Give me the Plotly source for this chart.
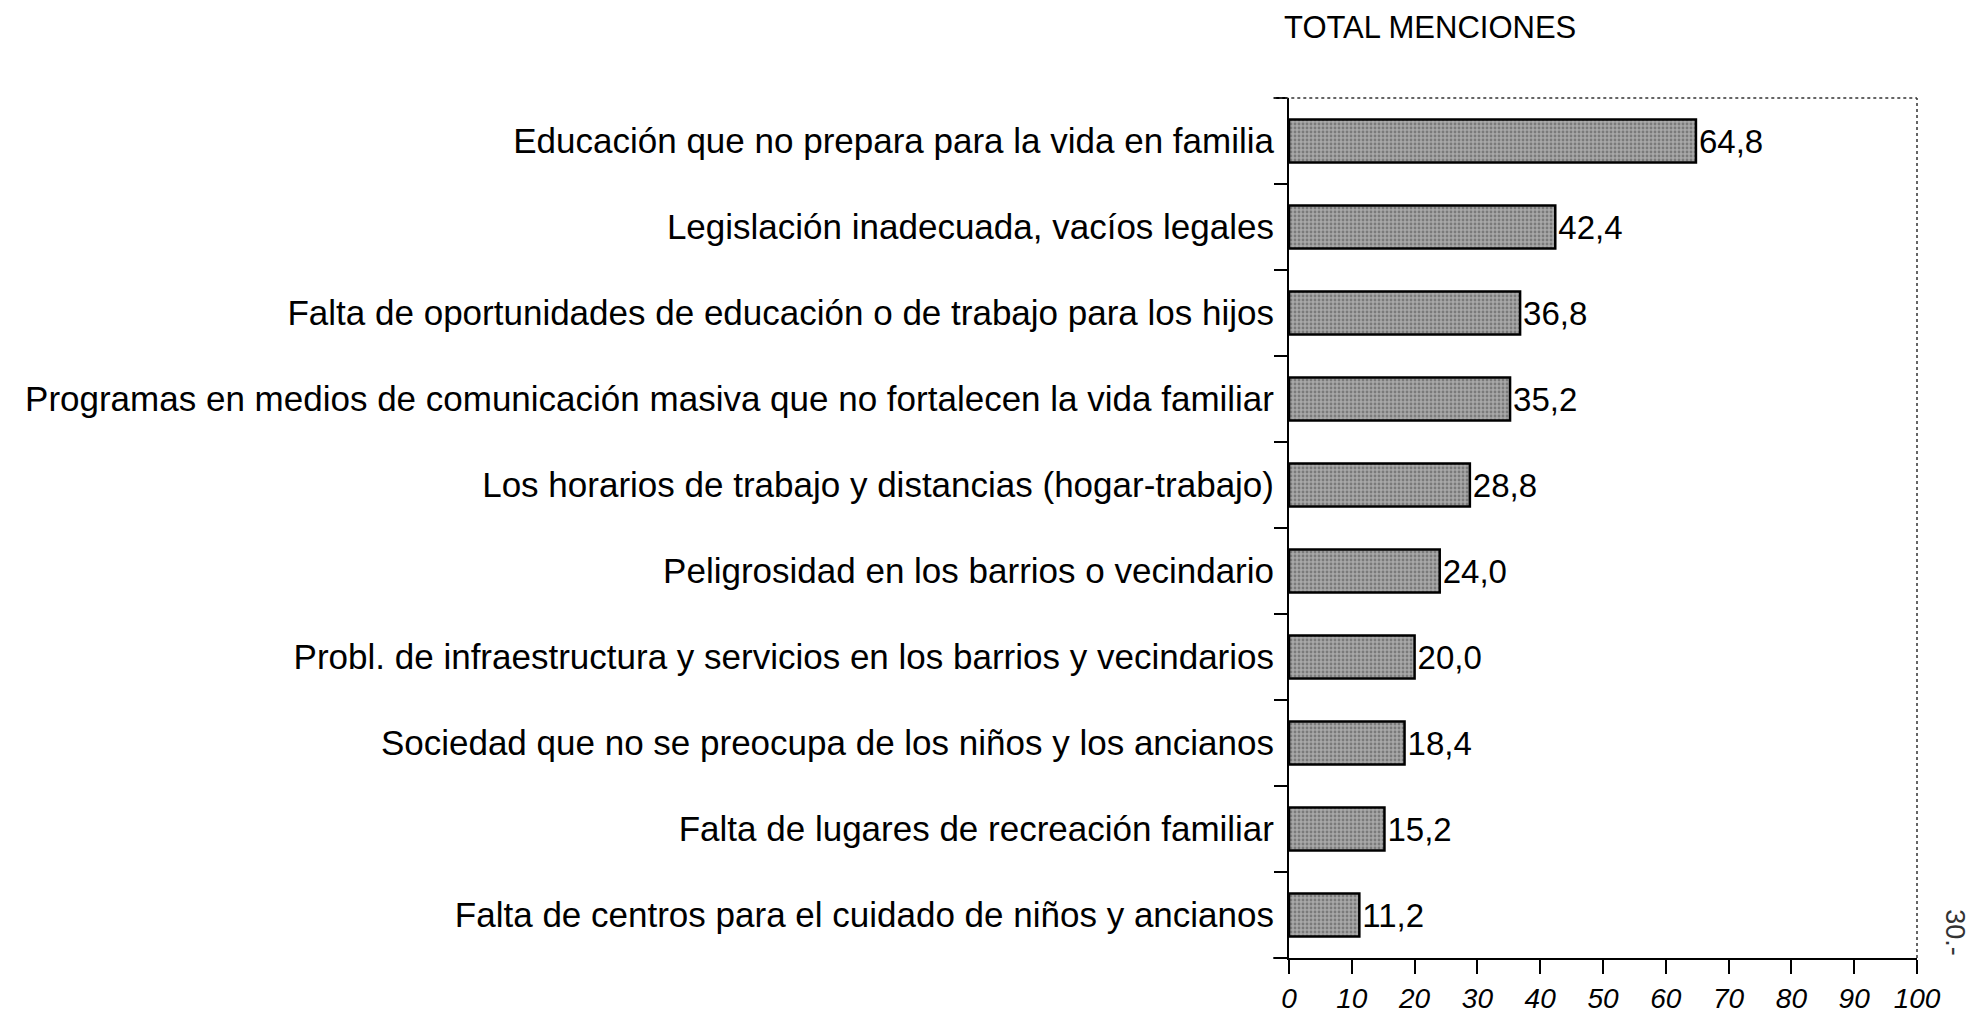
import plotly.graph_objects as go

categories = [
    "Educación que no prepara para la vida en familia",
    "Legislación inadecuada, vacíos legales",
    "Falta de oportunidades de educación o de trabajo para los hijos",
    "Programas en medios de comunicación masiva que no fortalecen la vida familiar",
    "Los horarios de trabajo y distancias (hogar-trabajo)",
    "Peligrosidad en los barrios o vecindario",
    "Probl. de infraestructura y servicios en los barrios y vecindarios",
    "Sociedad que no se preocupa de los niños y los ancianos",
    "Falta de lugares de recreación familiar",
    "Falta de centros para el cuidado de niños y ancianos",
]
values = [64.8, 42.4, 36.8, 35.2, 28.8, 24.0, 20.0, 18.4, 15.2, 11.2]
x_ticks = [0, 10, 20, 30, 40, 50, 60, 70, 80, 90, 100]
title_text = "TOTAL MENCIONES"
page_note = "30.-"

labels = [f"{v:.1f}".replace(".", ",") for v in values]

W, H = 1980, 1018
OFF = 8  # default page body margin
L, R, T, B = 1289 - OFF, 63 + OFF, 98 - OFF, 55 + OFF
PW = W - L - R
PH = H - T - B

FONT = "Liberation Sans, Arial, Helvetica, sans-serif"

fig = go.Figure(go.Bar(
    x=values, y=categories, orientation="h",
    text=labels, textposition="outside", cliponaxis=False,
    textfont=dict(size=33, color="black", family=FONT),
    marker=dict(
        color="#a0a0a0",
        line=dict(color="black", width=2.5),
        pattern=dict(shape=".", fgcolor="#4c4c4c", bgcolor="#a8a8a8", size=4, solidity=0.4),
    ),
    width=0.5,
))

fig.update_layout(
    width=W, height=H,
    margin=dict(l=L, r=R, t=T, b=B),
    paper_bgcolor="white", plot_bgcolor="white",
    showlegend=False,
    font=dict(family=FONT, color="black"),
)
fig.update_yaxes(
    autorange=False, range=[9.5, -0.5], type="category",
    showline=True, linecolor="black", linewidth=2,
    ticks="outside", tickson="boundaries", ticklen=13, tickwidth=1.5, tickcolor="black",
    tickfont=dict(size=35, color="black"), ticklabelstandoff=6,
    showgrid=False,
)
fig.update_xaxes(
    range=[0, 100], tickvals=x_ticks, ticktext=[f"<i>{t}</i>" for t in x_ticks],
    showline=True, linecolor="black", linewidth=2,
    ticks="outside", ticklen=14, tickwidth=1.5, tickcolor="black",
    tickfont=dict(size=28, color="black"),
    showgrid=False, zeroline=False,
)
# title as annotation, placed relative to the plot area
fig.add_annotation(text=title_text, xref="paper", yref="paper",
                   x=(1282 - 1289) / PW, y=1 + (98 - 27) / PH,
                   xanchor="left", yanchor="middle", showarrow=False,
                   font=dict(size=31, color="black"))
# dotted top and right border
fig.add_shape(type="line", xref="paper", yref="paper", x0=-0.025, x1=1, y0=1, y1=1,
              line=dict(color="#333", width=1.5, dash="dot"))
fig.add_shape(type="line", xref="paper", yref="paper", x0=1, x1=1, y0=0, y1=1,
              line=dict(color="#333", width=1.5, dash="dot"))
# bottom axis overhang to the left of zero
fig.add_shape(type="line", xref="paper", yref="paper", x0=-0.025, x1=0, y0=0, y1=0,
              line=dict(color="black", width=2))
fig.add_annotation(text=page_note, xref="paper", yref="paper", x=(1955 - 1289) / PW,
                   y=(963 - 937) / PH, textangle=90, showarrow=False,
                   xanchor="center", yanchor="middle",
                   font=dict(size=27, color="#333"))

fig.write_html("out.html")
